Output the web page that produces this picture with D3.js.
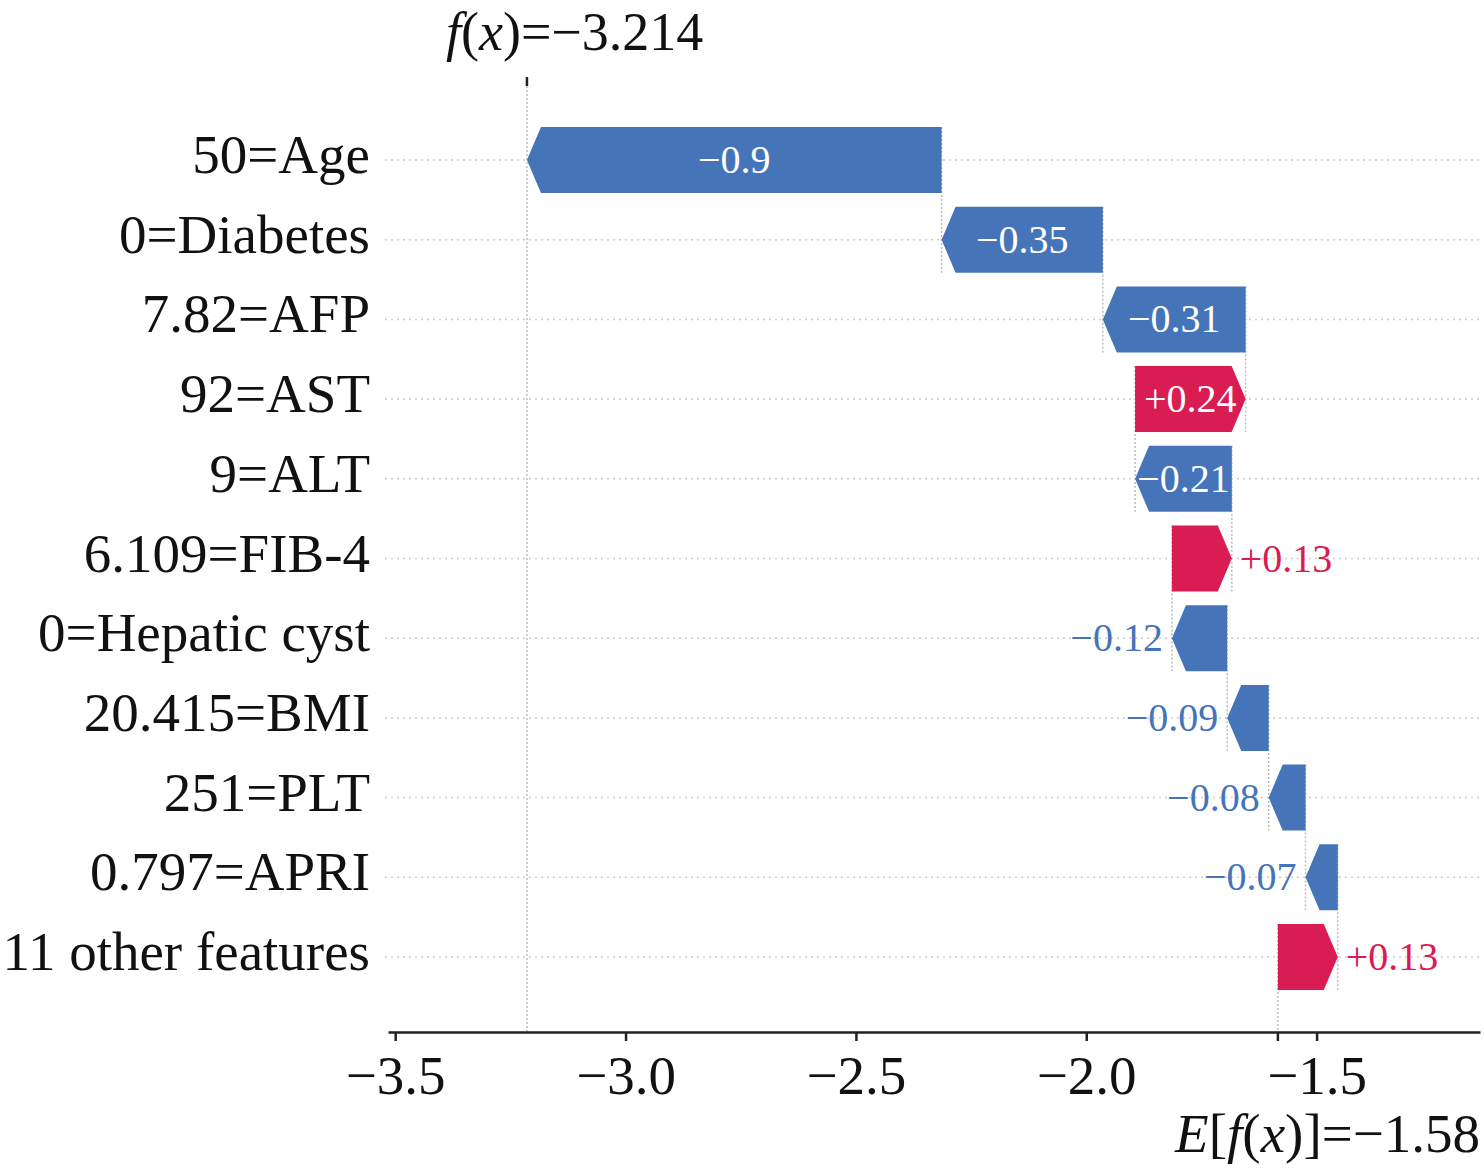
<!DOCTYPE html>
<html>
<head>
<meta charset="utf-8">
<script src="https://cdn.jsdelivr.net/npm/d3@7"></script>
<style>
  body { margin: 0; background: #fff; }
  text { font-family: "Liberation Serif", "Times New Roman", serif; }
</style>
</head>
<body>
<svg id="chart" width="1484" height="1169"></svg>
<script>
// feature rows, top to bottom
var features = ["50=Age", "0=Diabetes", "7.82=AFP", "92=AST", "9=ALT", "6.109=FIB-4",
    "0=Hepatic cyst", "20.415=BMI", "251=PLT", "0.797=APRI", "11 other features"];
var shapValues = [-0.9, -0.35, -0.31, 0.24, -0.21, 0.13, -0.12, -0.09, -0.08, -0.07, 0.13];
var baseValue = -1.584;
var tickValues = [-3.5, -3.0, -2.5, -2.0, -1.5];

var blue = "#4574b9";
var red = "#d91c51";

var svg = d3.select("#chart");

var x = d3.scaleLinear().domain([-3.5156, -1.1453]).range([388, 1480]);
var y = d3.scalePoint().domain(features).range([160, 957]);
var step = y(features[1]) - y(features[0]);
var barH = 66;
var axisY = 1032, topY = 86;

// cumulative positions, built from the bottom row up
var rows = [];
var cum = baseValue;
for (var i = features.length - 1; i >= 0; i--) {
    var start = cum, end = cum + shapValues[i];
    rows[i] = { name: features[i], value: shapValues[i], start: start, end: end };
    cum = end;
}
var fx = cum;

// horizontal dotted grid lines
svg.append("g").selectAll("line")
    .data(features)
    .enter()
    .append("line")
    .attr("x1", 385).attr("x2", 1480)
    .attr("y1", function (d) { return y(d); })
    .attr("y2", function (d) { return y(d); })
    .attr("stroke", "#cccccc")
    .attr("stroke-width", 1.5)
    .attr("stroke-dasharray", "2,4");

// connector lines between bars
svg.append("g").selectAll("line")
    .data(rows)
    .enter()
    .append("line")
    .attr("x1", function (d) { return x(d.start); })
    .attr("x2", function (d) { return x(d.start); })
    .attr("y1", function (d) { return y(d.name) - barH / 2; })
    .attr("y2", function (d) { return Math.min(axisY, y(d.name) + step + barH / 2); })
    .attr("stroke", "#bbbbbb")
    .attr("stroke-width", 1.5)
    .attr("stroke-dasharray", "2,2");

// f(x) line
svg.append("line")
    .attr("x1", x(fx)).attr("x2", x(fx))
    .attr("y1", topY).attr("y2", axisY)
    .attr("stroke", "#bbbbbb")
    .attr("stroke-width", 1.5)
    .attr("stroke-dasharray", "2,2");

function arrowPath(d) {
    var cy = y(d.name), t = cy - barH / 2, b = cy + barH / 2;
    var x0 = x(d.start), x1 = x(d.end);
    var hl = Math.min(14, Math.abs(x1 - x0));
    var dir = d.value >= 0 ? 1 : -1;
    var xh = x1 - dir * hl;
    return "M" + x0 + "," + t + "L" + xh + "," + t + "L" + x1 + "," + cy +
        "L" + xh + "," + b + "L" + x0 + "," + b + "Z";
}

svg.append("g").selectAll("path")
    .data(rows)
    .enter()
    .append("path")
    .attr("d", arrowPath)
    .attr("fill", function (d) { return d.value >= 0 ? red : blue; });

// value labels
function fmt(v) { return (v >= 0 ? "+" : "\u2212") + d3.format("")(Math.abs(v)); }

svg.append("g").selectAll("text")
    .data(rows)
    .enter()
    .append("text")
    .attr("font-size", 40)
    .text(function (d) { return fmt(d.value); })
    .each(function (d) {
        var el = d3.select(this);
        var w = this.getComputedTextLength();
        var x0 = x(d.start), x1 = x(d.end);
        var bw = Math.abs(x1 - x0);
        var cy = y(d.name) + 13;
        if (w < bw) {
            el.attr("x", (x0 + x1) / 2).attr("y", cy)
                .attr("text-anchor", "middle").attr("fill", "#fff");
        } else if (d.value >= 0) {
            el.attr("x", x1 + 8).attr("y", cy)
                .attr("text-anchor", "start").attr("fill", red);
        } else {
            el.attr("x", x1 - 9).attr("y", cy)
                .attr("text-anchor", "end").attr("fill", blue);
        }
    });

// feature names
svg.append("g").selectAll("text")
    .data(features)
    .enter()
    .append("text")
    .attr("x", 370)
    .attr("y", function (d) { return y(d) + 13; })
    .attr("text-anchor", "end")
    .attr("font-size", 55)
    .attr("fill", "#111")
    .text(function (d) { return d; });

// bottom axis
var axis = svg.append("g")
    .attr("transform", "translate(0," + axisY + ")")
    .call(d3.axisBottom(x).tickValues(tickValues).tickFormat(d3.format(".1f"))
        .tickSize(9).tickSizeOuter(0).tickPadding(14));
axis.select(".domain").attr("stroke", "#222").attr("stroke-width", 2.5);
axis.selectAll(".tick line").attr("stroke", "#222").attr("stroke-width", 2.5);
axis.selectAll(".tick text")
    .attr("font-size", 55)
    .attr("fill", "#111")
    .attr("font-family", "Liberation Serif, serif");

// E[f(x)] tick and label
svg.append("line")
    .attr("x1", x(baseValue)).attr("x2", x(baseValue))
    .attr("y1", axisY).attr("y2", axisY + 9)
    .attr("stroke", "#222").attr("stroke-width", 2.5);

var eLabel = svg.append("text")
    .attr("x", 1480).attr("y", 1152)
    .attr("text-anchor", "end")
    .attr("font-size", 55)
    .attr("fill", "#111");
eLabel.append("tspan").attr("font-style", "italic").text("E");
eLabel.append("tspan").text("[");
eLabel.append("tspan").attr("font-style", "italic").text("f");
eLabel.append("tspan").text("(");
eLabel.append("tspan").attr("font-style", "italic").text("x");
eLabel.append("tspan").text(")]=\u2212" + d3.format(".2f")(Math.abs(baseValue)));

// f(x) tick and label on top
svg.append("line")
    .attr("x1", x(fx)).attr("x2", x(fx))
    .attr("y1", topY - 9).attr("y2", topY)
    .attr("stroke", "#222").attr("stroke-width", 2.5);

var fLabel = svg.append("text")
    .attr("x", x(fx) - 81).attr("y", 50)
    .attr("font-size", 54)
    .attr("fill", "#111");
fLabel.append("tspan").attr("font-style", "italic").text("f");
fLabel.append("tspan").text("(");
fLabel.append("tspan").attr("font-style", "italic").text("x");
fLabel.append("tspan").text(")=\u2212" + d3.format(".3f")(Math.abs(fx)));
</script>
</body>
</html>
